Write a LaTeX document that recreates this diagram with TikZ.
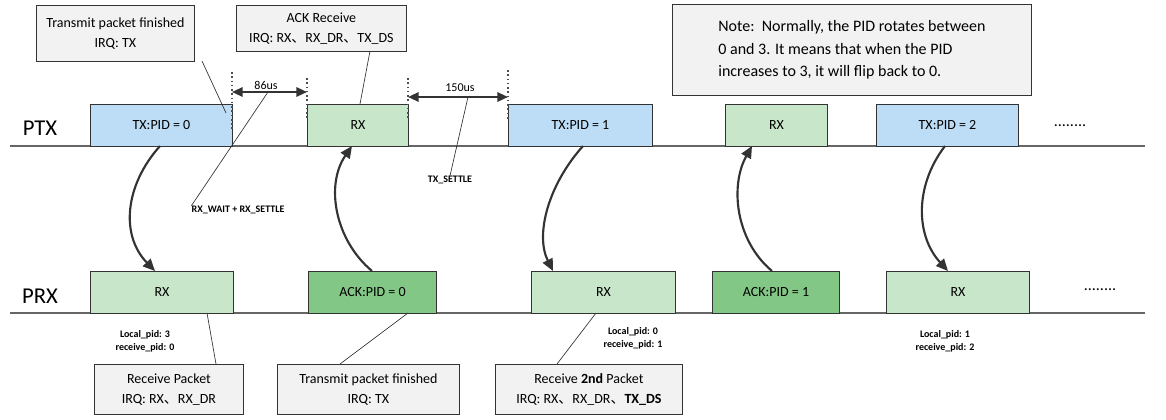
\documentclass[tikz,border=0pt]{standalone}
\usepackage{fontspec}
\setmainfont{Carlito}
\newfontfamily\cjk{Noto Sans CJK SC}
\usetikzlibrary{arrows.meta}
\definecolor{bl}{HTML}{BDDDF7}
\definecolor{lg}{HTML}{C8E6C9}
\definecolor{dg}{HTML}{82C785}
\definecolor{gr}{HTML}{F2F2F2}
\newcommand{\dn}{{\cjk 、}}
\begin{document}
\begin{tikzpicture}[x=0.75pt,y=-0.75pt,
 box/.style={draw=black!80,line width=0.7pt,anchor=north west,inner sep=0pt,font=\fontsize{10.5}{12}\selectfont},
 note/.style={draw=black!80,fill=gr,line width=0.6pt,align=center,font=\fontsize{10.5}{15}\selectfont,inner sep=0pt},
 flow/.style={line width=1.6pt,draw=black!80,-{Triangle[length=9pt,width=8pt]}},
 call/.style={line width=0.5pt,draw=black!80},
 dim/.style={line width=1.6pt,draw=black!80,{Triangle[length=8pt,width=7pt]}-{Triangle[length=8pt,width=7pt]}},
 dots/.style={dotted,line width=1.2pt,draw=black!70},
 small/.style={font=\bfseries\fontsize{7.5}{10}\selectfont,align=center,inner sep=0pt}]
\useasboundingbox (0,0) rectangle (1166,419);
\draw[line width=0.8pt,black!60] (10,146) -- (1145,146);
\draw[line width=0.8pt,black!60] (10,313) -- (1145,313);
\node[font=\fontsize{17}{20}\selectfont] (ptx) at (40,128) {PTX};
\node[font=\fontsize{17}{20}\selectfont] (prx) at (40,296) {PRX};
% PTX boxes
\node[box,fill=bl,minimum width=142*0.75pt,minimum height=42*0.75pt] (t0) at (90,104) {TX:PID = 0};
\node[box,fill=lg,minimum width=101*0.75pt,minimum height=42*0.75pt] (r0) at (307,104) {RX};
\node[box,fill=bl,minimum width=144*0.75pt,minimum height=42*0.75pt] (t1) at (508,104) {TX:PID = 1};
\node[box,fill=lg,minimum width=102*0.75pt,minimum height=42*0.75pt] (r1) at (725,104) {RX};
\node[box,fill=bl,minimum width=142*0.75pt,minimum height=42*0.75pt] (t2) at (876,104) {TX:PID = 2};
\node[font=\fontsize{12}{12}\selectfont] (d1) at (1070,126) {........};
% PRX boxes
\node[box,fill=lg,minimum width=143*0.75pt,minimum height=42*0.75pt] (p0) at (90,271) {RX};
\node[box,fill=dg,minimum width=128*0.75pt,minimum height=42*0.75pt] (a0) at (308,271) {ACK:PID = 0};
\node[box,fill=lg,minimum width=144*0.75pt,minimum height=42*0.75pt] (p1) at (531,271) {RX};
\node[box,fill=dg,minimum width=127*0.75pt,minimum height=42*0.75pt] (a1) at (712,271) {ACK:PID = 1};
\node[box,fill=lg,minimum width=143*0.75pt,minimum height=42*0.75pt] (p2) at (886,271) {RX};
\node[font=\fontsize{12}{12}\selectfont] (d2) at (1100,290) {........};
% dotted markers
\coordinate (m1a) at (232,72); \coordinate (m1b) at (232,130);
\coordinate (m2a) at (307,78); \coordinate (m2b) at (307,120);
\coordinate (m3a) at (408,78); \coordinate (m3b) at (408,120);
\coordinate (m4a) at (508,70); \coordinate (m4b) at (508,120);
\draw[dots] (m1a) -- (m1b); \draw[dots] (m2a) -- (m2b);
\draw[dots] (m3a) -- (m3b); \draw[dots] (m4a) -- (m4b);
\coordinate (e1) at (232,92); \coordinate (e2) at (307,92);
\coordinate (e3) at (408,97); \coordinate (e4) at (508,97);
\draw[dim] (e1) -- (e2);
\draw[dim] (e3) -- (e4);
\node[font=\fontsize{9}{10}\selectfont] (l86) at (266,85) {86us};
\node[font=\fontsize{9}{10}\selectfont] (l150) at (460,88) {150us};
\node[small] (rw) at (238,210) {RX\_WAIT + RX\_SETTLE};
\node[small] (ts) at (450,180) {TX\_SETTLE};
\draw[call] (268,92) -- (rw.north west) ++(0,0);
\draw[call] (468,97) -- (ts.north);
% top notes
\node[note,minimum width=158*0.75pt,minimum height=56*0.75pt,anchor=north west] (n1) at (36,5) {Transmit packet finished\\IRQ: TX};
\node[note,minimum width=170*0.75pt,minimum height=46*0.75pt,anchor=north west] (n2) at (236,5) {ACK Receive\\IRQ: RX\dn RX\_DR\dn TX\_DS};
\node[note,minimum width=359*0.75pt,minimum height=91*0.75pt,anchor=north west,font=\fontsize{12}{17}\selectfont,align=left] (n3) at (672,4) {Note:\ \ Normally, the PID rotates between\\0 and 3. It means that when the PID\\increases to 3, it will flip back to 0.};
\coordinate (c1) at (226,113); \coordinate (c2) at (360,104);
\draw[call] (202,61) -- (c1);
\draw[call] (370,51) -- (c2);
% flows
\draw[flow] (160,146) .. controls (125,185) and (120,235) .. (155,271);
\draw[flow] (372,271) .. controls (335,240) and (325,185) .. (352,146);
\draw[flow] (583,146) .. controls (548,185) and (535,235) .. (553,271);
\draw[flow] (772,271) .. controls (735,240) and (730,185) .. (752,146);
\draw[flow] (945,146) .. controls (915,185) and (915,235) .. (948,271);
% bottom
\node[small] (lp0) at (145,341) {Local\_pid: 3\\receive\_pid: 0};
\node[small] (lp1) at (633,338) {Local\_pid: 0\\receive\_pid: 1};
\node[small] (lp2) at (945,341) {Local\_pid: 1\\receive\_pid: 2};
\node[note,minimum width=149*0.75pt,minimum height=50*0.75pt,anchor=north west] (b1) at (94,364) {Receive Packet\\IRQ: RX\dn RX\_DR};
\node[note,minimum width=182*0.75pt,minimum height=50*0.75pt,anchor=north west] (b2) at (277,364) {Transmit packet finished\\IRQ: TX};
\node[note,minimum width=187*0.75pt,minimum height=50*0.75pt,anchor=north west] (b3) at (495,364) {Receive \textbf{2nd} Packet\\IRQ: RX\dn RX\_DR\dn\textbf{TX\_DS}};
\draw[call] (207,313) -- (216,364);
\draw[call] (408,313) -- (340,364);
\draw[call] (596,313) -- (557,364);
\end{tikzpicture}
\end{document}
